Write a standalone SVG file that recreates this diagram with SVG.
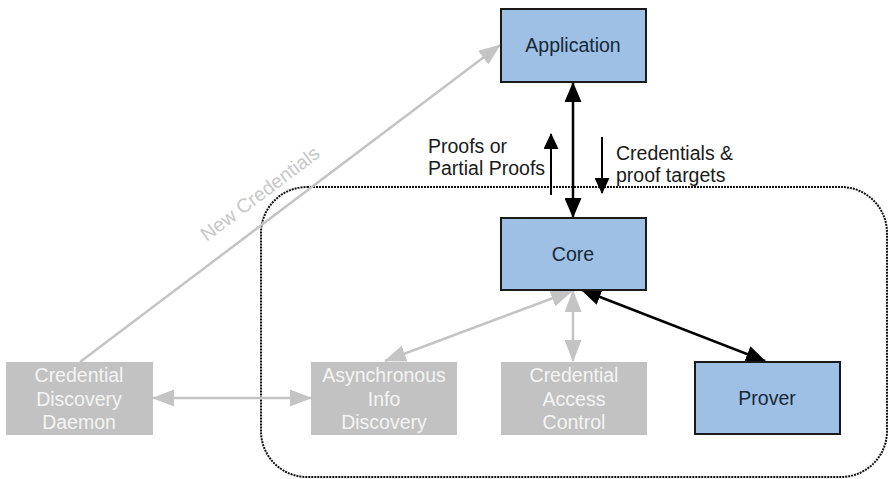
<svg xmlns="http://www.w3.org/2000/svg" width="889" height="479" viewBox="0 0 889 479">
<style>
.blue{fill:#9dc0e4;stroke:#1a1a1a;stroke-width:2}
.grey{fill:#c2c2c2}
.bt{font-family:"Liberation Sans",Arial,sans-serif;font-size:19.5px;fill:#17283a;text-anchor:middle}
.gt{font-family:"Liberation Sans",Arial,sans-serif;font-size:19.5px;fill:#f4f4f4;text-anchor:middle}
.lt{font-family:"Liberation Sans",Arial,sans-serif;font-size:19.5px;fill:#1a1a1a}
.bl{stroke:#000;stroke-width:2.5;fill:none}
.gl{stroke:#c4c4c4;stroke-width:2.5;fill:none}
</style>
<defs>
<marker id="ab" markerUnits="userSpaceOnUse" markerWidth="20" markerHeight="17" refX="19" refY="8.5" orient="auto-start-reverse" viewBox="0 0 20 17"><path d="M0,0 L20,8.5 L0,17 z" fill="#000"/></marker>
<marker id="as" markerUnits="userSpaceOnUse" markerWidth="16" markerHeight="15" refX="15" refY="7.5" orient="auto-start-reverse" viewBox="0 0 16 15"><path d="M0,0 L16,7.5 L0,15 z" fill="#000"/></marker>
<marker id="ag" markerUnits="userSpaceOnUse" markerWidth="22" markerHeight="17" refX="21" refY="8.5" orient="auto-start-reverse" viewBox="0 0 22 17"><path d="M0,0 L22,8.5 L0,17 z" fill="#c4c4c4"/></marker>
</defs>
<rect x="261" y="187" width="626" height="290" rx="46" fill="none" stroke="#111" stroke-width="2" stroke-dasharray="2,1"/>
<g id="connectors">
<line class="gl" x1="80" y1="362" x2="500" y2="45" marker-end="url(#ag)"/>
<text class="lt" transform="translate(264,199) rotate(-37)" text-anchor="middle" style="fill:#c8c8c8">New Credentials</text>
<line class="gl" x1="153" y1="398" x2="311" y2="398" marker-start="url(#ag)" marker-end="url(#ag)"/>
<line class="gl" x1="385" y1="361" x2="572" y2="291" marker-start="url(#ag)" marker-end="url(#ag)"/>
<line class="gl" x1="573" y1="291" x2="573" y2="361" marker-start="url(#ag)" marker-end="url(#ag)"/>
<line class="bl" x1="573" y1="83" x2="573" y2="217" marker-start="url(#ab)" marker-end="url(#ab)"/>
<line class="bl" x1="582" y1="290" x2="765" y2="361" marker-start="url(#ab)" marker-end="url(#ab)"/>
<line stroke="#000" stroke-width="2" x1="551" y1="195" x2="551" y2="134" marker-end="url(#as)"/>
<line stroke="#000" stroke-width="2" x1="602" y1="137" x2="602" y2="193" marker-end="url(#as)"/>
<text class="lt" x="428" y="153">Proofs or</text>
<text class="lt" x="428" y="175">Partial Proofs</text>
<text class="lt" x="616" y="160">Credentials &amp;</text>
<text class="lt" x="616" y="182">proof targets</text>
</g>
<g id="application"><rect class="blue" x="501" y="9" width="145" height="73"/><text class="bt" x="573" y="52">Application</text></g>
<g id="core"><rect class="blue" x="501" y="218" width="145" height="72"/><text class="bt" x="573" y="261">Core</text></g>
<g id="prover"><rect class="blue" x="695" y="362" width="145" height="72"/><text class="bt" x="767" y="405">Prover</text></g>
<g id="daemon"><rect class="grey" x="6" y="362" width="147" height="73"/><text class="gt" x="79" y="382">Credential</text><text class="gt" x="79" y="405.5">Discovery</text><text class="gt" x="79" y="429">Daemon</text></g>
<g id="async"><rect class="grey" x="311" y="362" width="146" height="73"/><text class="gt" x="384" y="382">Asynchronous</text><text class="gt" x="384" y="405.5">Info</text><text class="gt" x="384" y="429">Discovery</text></g>
<g id="access"><rect class="grey" x="501" y="362" width="146" height="73"/><text class="gt" x="574" y="382">Credential</text><text class="gt" x="574" y="405.5">Access</text><text class="gt" x="574" y="429">Control</text></g>
</svg>
